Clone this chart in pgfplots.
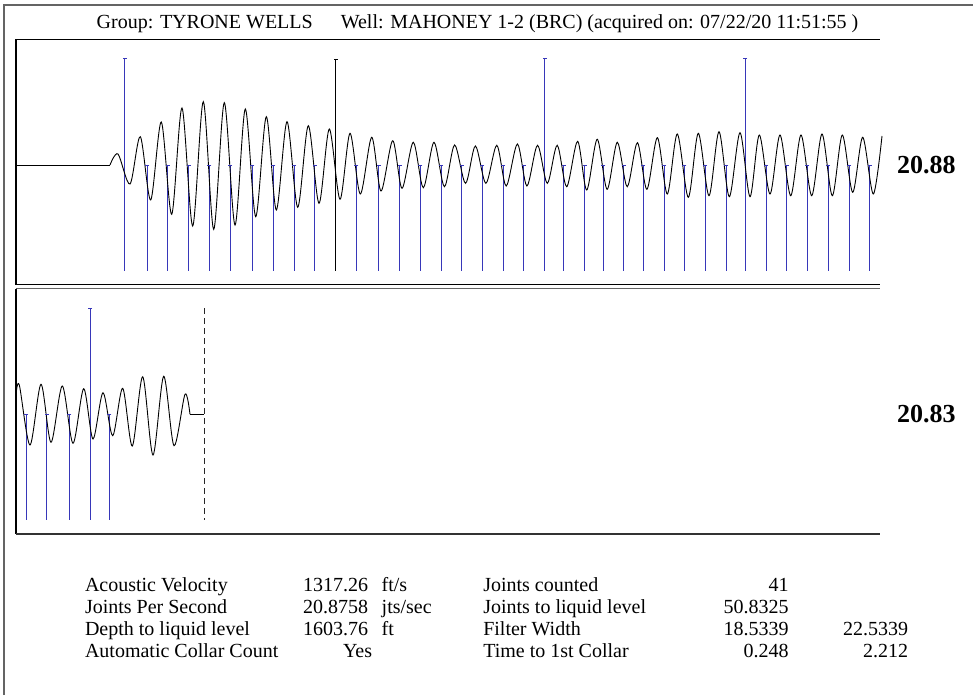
\documentclass[border=0pt]{standalone}
\usepackage{pgfplots}
\pgfplotsset{compat=1.18}
\usepackage{pgfplotstable}
\usepackage{fontspec}
\setmainfont{Liberation Serif}
\definecolor{jnt}{RGB}{55,55,185}
\definecolor{frm}{RGB}{100,100,100}

\pgfplotstableread{
x top bot
147 0 -106
167.7 0 -106
188.7 0 -106
209.3 0 -106
230 0 -106
252.3 0 -106
273.3 0 -106
294 0 -106
314.7 0 -106
356.3 0 -106
378.7 0 -106
399.7 0 -106
420.3 0 -106
441 0 -106
461.7 0 -106
482.1 0 -106
503.2 0 -106
523.6 0 -106
563.6 0 -106
584.7 0 -106
603.3 0 -106
623.7 0 -106
643.1 0 -106
664 0 -106
684.3 0 -106
705 0 -106
726 0 -106
766 0 -106
786.7 0 -106
807.3 0 -106
828 0 -106
849 0 -106
869.7 0 -106
}\topshort

\pgfplotstableread{
x top bot
124.7 106 -106
544.7 106 -106
745 106 -106
}\toptall

\pgfplotstableread{
x top bot
335.7 106 -106
}\toptallblack

\pgfplotstableread{
x y
16 0
110 0
}\topflat

\pgfplotstableread{
x y
110 0
118 11
130 -19
140.3 28.3
150.7 -35
161.3 43
171.7 -49.3
182 57
192.7 -61
203.3 63.3
213.7 -64.3
224.3 62.3
235 -60
245.3 56
255.7 -51.7
266.3 48.3
276.3 -45
287 43.3
297.7 -42.3
308.3 39.3
319 -38.3
329.3 36
340 -34.3
350 31.7
360.3 -29
371.7 27.7
381 -26
392.7 24.3
402 -23.3
413.3 22.7
423.3 -22.7
434 22.7
444.4 -21.7
454.6 20
465.5 -18.3
475.4 19
485.9 -18.3
496.8 19.7
506.2 -21
517.4 21
526.9 -21
537.5 19.7
547.3 -18.3
557.2 19.7
566.7 -21.7
577.6 23.7
586.7 -25
597.2 25.7
607.1 -24.3
617.3 22.7
627.2 -21.7
637.4 22.3
646.9 -24.3
657.4 27.3
667.3 -29
677.3 31
688.3 -32.3
698.3 31.7
709 -30.7
719 33.3
729.3 -31.7
740 32.3
750 -31.7
759.3 30
770 -29
780 30
790.7 -30.7
801 30
811.7 -30.7
822 31
832.3 -30.7
842.3 30
852.7 -27.3
862.7 27.7
873.3 -29
882 29
}\topwave

\pgfplotstableread{
x top bot
26 0 -106
46.7 0 -106
69.3 0 -106
109.3 0 -106
}\botshort

\pgfplotstableread{
x top bot
90 106 -106
}\bottall

\pgfplotstableread{
x y
16 19
19.3 29.3
30 -30.7
41 30
51 -28
62.3 28.3
73 -29
83.7 25.6
93 -24.7
103 21.6
112.7 -21.4
122.7 26
132.3 -31.7
142.7 37.6
153 -40.7
163.7 38
174 -31.4
185 20
190 0
}\botwave

\pgfplotstableread{
x y
190 0
204 0
}\botflat

\pgfplotstableread{
x y
204 106
204 -106
}\botdash

\begin{document}
\begin{tikzpicture}
\useasboundingbox (0pt,0pt) rectangle (973pt,-695pt);
\draw[draw=frm, line width=2pt] (3.5pt,-695pt) -- (3.5pt,-4.7pt) -- (973pt,-4.7pt);

\begin{axis}[at={(16pt,-284pt)}, anchor=south west, scale only axis,
  width=870pt, height=245pt, xmin=16, xmax=886, ymin=-119, ymax=126,
  hide axis, clip=false]
\addplot[draw=jnt, line width=1pt, ycomb, no marks] table[x=x, y=bot] {\topshort};
\addplot[jnt, line width=0.8pt, only marks, mark=-, mark size=2pt] table[x=x, y=top] {\topshort};
\addplot[draw=jnt, line width=1pt, ycomb, mark=-, mark size=2pt] table[x=x, y=top] {\toptall};
\addplot[draw=jnt, line width=1pt, ycomb, no marks] table[x=x, y=bot] {\toptall};
\addplot[draw=black, line width=0.9pt, ycomb, mark=-, mark size=2pt] table[x=x, y=top] {\toptallblack};
\addplot[draw=black, line width=0.9pt, ycomb, no marks] table[x=x, y=bot] {\toptallblack};
\addplot[black, line width=0.9pt, no marks] table[x=x, y=y] {\topflat};
\addplot[black, line width=0.9pt, no marks, smooth] table[x=x, y=y] {\topwave};
\end{axis}

\begin{axis}[at={(16pt,-534pt)}, anchor=south west, scale only axis,
  width=870pt, height=246pt, xmin=16, xmax=886, ymin=-119.7, ymax=126.3,
  hide axis, clip=false]
\addplot[draw=jnt, line width=1pt, ycomb, no marks] table[x=x, y=bot] {\botshort};
\addplot[jnt, line width=0.8pt, only marks, mark=-, mark size=2pt] table[x=x, y=top] {\botshort};
\addplot[draw=jnt, line width=1pt, ycomb, mark=-, mark size=2pt] table[x=x, y=top] {\bottall};
\addplot[draw=jnt, line width=1pt, ycomb, no marks] table[x=x, y=bot] {\bottall};
\addplot[black, line width=0.9pt, no marks, smooth] table[x=x, y=y] {\botwave};
\addplot[black, line width=0.9pt, no marks] table[x=x, y=y] {\botflat};
\addplot[black!85, line width=0.9pt, no marks, dash pattern=on 6pt off 4pt] table[x=x, y=y] {\botdash};
\end{axis}

\draw[black, line width=1.2pt] (16pt,-39.3pt) -- (880pt,-39.3pt);
\draw[black, line width=2pt] (16pt,-39.3pt) -- (16pt,-284.5pt);
\draw[black, line width=1.2pt] (16pt,-284.3pt) -- (880pt,-284.3pt);
\draw[frm, line width=1.2pt] (16pt,-288.5pt) -- (880pt,-288.5pt);
\draw[black, line width=2pt] (16pt,-288.5pt) -- (16pt,-534pt);
\draw[black!80, line width=1.2pt] (16pt,-534pt) -- (880pt,-534pt);

\begin{scope}[every node/.style={inner sep=0pt, outer sep=0pt}]
\fontsize{20}{24}\selectfont
\node[anchor=base west] at (96.7pt,-29pt) {Group: TYRONE WELLS\hspace{28pt}Well: MAHONEY 1-2 (BRC) (acquired on: 07/22/20 11:51:55 )};
\node[anchor=base west, font=\fontsize{26}{30}\selectfont\bfseries] at (897pt,-173.3pt) {20.88};
\node[anchor=base west, font=\fontsize{26}{30}\selectfont\bfseries] at (897pt,-422.7pt) {20.83};

\node[anchor=base west] at (85pt,-591pt) {Acoustic Velocity};
\node[anchor=base west] at (85pt,-613pt) {Joints Per Second};
\node[anchor=base west] at (85pt,-635pt) {Depth to liquid level};
\node[anchor=base west] at (85pt,-657pt) {Automatic Collar Count};

\node[anchor=base east] at (368pt,-591pt) {1317.26};
\node[anchor=base east] at (368pt,-613pt) {20.8758};
\node[anchor=base east] at (368pt,-635pt) {1603.76};
\node[anchor=base west] at (343pt,-657pt) {Yes};

\node[anchor=base west] at (381.7pt,-591pt) {ft/s};
\node[anchor=base west] at (381.7pt,-613pt) {jts/sec};
\node[anchor=base west] at (381.7pt,-635pt) {ft};

\node[anchor=base west] at (483.3pt,-591pt) {Joints counted};
\node[anchor=base west] at (483.3pt,-613pt) {Joints to liquid level};
\node[anchor=base west] at (483.3pt,-635pt) {Filter Width};
\node[anchor=base west] at (483.3pt,-657pt) {Time to 1st Collar};

\node[anchor=base east] at (788.5pt,-591pt) {41};
\node[anchor=base east] at (788.5pt,-613pt) {50.8325};
\node[anchor=base east] at (788.5pt,-635pt) {18.5339};
\node[anchor=base east] at (788.5pt,-657pt) {0.248};

\node[anchor=base east] at (908pt,-635pt) {22.5339};
\node[anchor=base east] at (908pt,-657pt) {2.212};
\end{scope}
\end{tikzpicture}
\end{document}
